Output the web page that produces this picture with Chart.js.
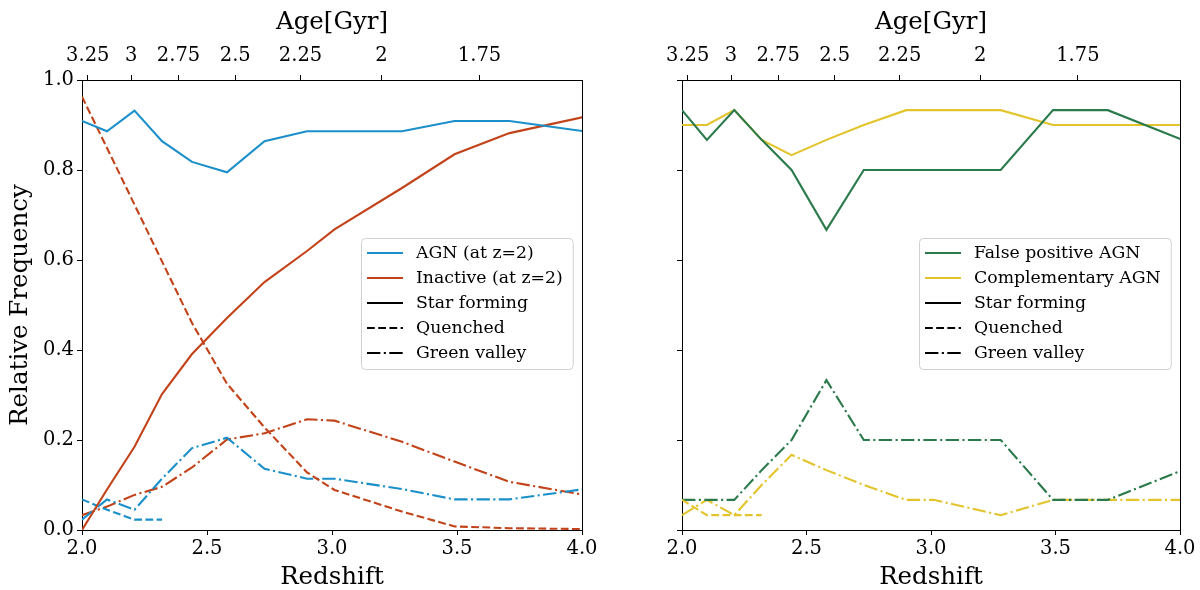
<!DOCTYPE html>
<html>
<head>
<meta charset="utf-8">
<script src="https://cdn.jsdelivr.net/npm/chart.js@4.4.1/dist/chart.umd.min.js"></script>
<style>
  html, body { margin: 0; padding: 0; background: #fff; }
  #wrap { display: flex; width: 1200px; height: 590px; }
  canvas { display: block; }
</style>
</head>
<body>
<div id="wrap">
  <canvas id="left" width="600" height="590"></canvas>
  <canvas id="right" width="600" height="590"></canvas>
</div>
<script>
// snapshot redshifts
const redshift = [2.00, 2.10, 2.21, 2.32, 2.44, 2.58, 2.73, 2.90, 3.01, 3.28, 3.49, 3.71, 4.01];

// left panel: galaxies that are AGN / inactive at z=2
const agnSF = [0.909, 0.886, 0.932, 0.864, 0.818, 0.795, 0.864, 0.886, 0.886, 0.886, 0.909, 0.909, 0.886];
const agnQ  = [0.068, 0.045, 0.023, 0.023, null, null, null, null, null, null, null, null, null];
const agnGV = [0.023, 0.068, 0.045, 0.114, 0.182, 0.205, 0.136, 0.114, 0.114, 0.091, 0.068, 0.068, 0.091];

const inactSF = [0.000, 0.090, 0.185, 0.302, 0.391, 0.471, 0.551, 0.620, 0.668, 0.760, 0.835, 0.882, 0.918];
const inactQ  = [0.963, 0.849, 0.723, 0.597, 0.460, 0.325, 0.228, 0.128, 0.089, 0.041, 0.008, 0.004, 0.002];
const inactGV = [0.033, 0.052, 0.078, 0.096, 0.139, 0.201, 0.215, 0.246, 0.243, 0.196, 0.152, 0.107, 0.078];

// right panel
const fpSF = [0.933, 0.867, 0.933, 0.867, 0.800, 0.667, 0.800, 0.800, 0.800, 0.800, 0.933, 0.933, 0.867];
const fpGV = [0.067, 0.067, 0.067, 0.133, 0.200, 0.333, 0.200, 0.200, 0.200, 0.200, 0.067, 0.067, 0.133];

const compSF = [0.900, 0.900, 0.933, 0.867, 0.833, 0.867, 0.900, 0.933, 0.933, 0.933, 0.900, 0.900, 0.900];
const compQ  = [0.067, 0.033, 0.033, 0.033, null, null, null, null, null, null, null, null, null];
const compGV = [0.033, 0.067, 0.033, 0.100, 0.167, 0.133, 0.100, 0.067, 0.067, 0.033, 0.067, 0.067, 0.067];

// top axis: cosmic age at the matching redshift
const ageTickZ = [2.023, 2.197, 2.386, 2.613, 2.874, 3.198, 3.590];
const ageTickLabels = ["3.25", "3", "2.75", "2.5", "2.25", "2", "1.75"];

const FONT = "'DejaVu Serif', 'Liberation Serif', serif";
const BLUE = "#1b8fc9", RED = "#c2431a", GREEN = "#2b7a4b", YELLOW = "#e3c42c";
const SOLID = [], DASHED = [7.8, 3.4], DASHDOT = [13.4, 3.4, 2.1, 3.4];

function series(label, ys, color, dash) {
  return {
    label,
    data: redshift.map((z, i) => ({ x: z, y: ys[i] })),
    borderColor: color,
    borderWidth: 2.1,
    borderDash: dash,
    pointRadius: 0,
    fill: false,
    tension: 0,
    spanGaps: false
  };
}

// legend box drawn inside the axes, like a "center right" legend
const boxLegend = {
  id: "boxLegend",
  afterDatasetsDraw(chart, args, opts) {
    const { ctx, chartArea: a } = chart;
    const items = opts.items || [];
    ctx.save();
    ctx.font = "17.3px " + FONT;
    const textW = Math.max(...items.map(it => ctx.measureText(it.text).width));
    const w = 56 + textW + 9, h = 131;
    const x = Math.round(a.right - 9 - w);
    const y = Math.round((a.top + a.bottom) / 2 - h / 2 - 2);
    ctx.beginPath();
    ctx.roundRect(x + 0.5, y + 0.5, w, h, 4);
    ctx.fillStyle = "rgba(255,255,255,0.8)";
    ctx.fill();
    ctx.strokeStyle = "#d0d0d0";
    ctx.lineWidth = 1;
    ctx.stroke();
    items.forEach((it, i) => {
      const cy = y + 15 + i * 25;
      ctx.beginPath();
      ctx.setLineDash(it.dash);
      ctx.strokeStyle = it.color;
      ctx.lineWidth = 2.1;
      ctx.moveTo(x + 6, cy);
      ctx.lineTo(x + 42, cy);
      ctx.stroke();
      ctx.setLineDash([]);
      ctx.fillStyle = "#000";
      ctx.textBaseline = "middle";
      ctx.fillText(it.text, x + 55, cy + 1);
    });
    ctx.restore();
  }
};

// right-hand spine
const rightSpine = {
  id: "rightSpine",
  afterDraw(chart) {
    const { ctx, chartArea: a } = chart;
    ctx.save();
    ctx.strokeStyle = "#000";
    ctx.lineWidth = 1;
    ctx.beginPath();
    ctx.moveTo(Math.round(a.right) + 0.5, a.top);
    ctx.lineTo(Math.round(a.right) + 0.5, a.bottom);
    ctx.stroke();
    ctx.restore();
  }
};

function makeOptions(showYLabels, padRight, legendItems) {
  const tickFont = { family: FONT, size: 19.5 };
  const titleFont = { family: FONT, size: 24.5 };
  const axisLine = { display: true, color: "#000", width: 1 };
  const tickGrid = { drawOnChartArea: false, drawTicks: true, tickLength: 5, tickColor: "#000", tickWidth: 1 };
  return {
    responsive: false,
    animation: false,
    events: [],
    layout: { padding: { left: 0, right: padRight, top: 0, bottom: 0 } },
    plugins: {
      legend: { display: false },
      tooltip: { enabled: false },
      boxLegend: { items: legendItems }
    },
    scales: {
      x: {
        type: "linear", position: "bottom", min: 2, max: 4, z: 1,
        grid: tickGrid, border: axisLine,
        ticks: { stepSize: 0.5, font: tickFont, color: "#000", padding: 2,
                 callback: v => v.toFixed(1), maxRotation: 0 },
        title: { display: true, text: "Redshift", font: titleFont, color: "#000",
                 padding: { top: 0, bottom: -2 } },
        afterFit: s => { s.height = 60; }
      },
      x2: {
        type: "linear", position: "top", min: 2, max: 4, z: 1,
        grid: tickGrid, border: axisLine,
        afterBuildTicks: s => { s.ticks = ageTickZ.map(v => ({ value: v })); },
        ticks: { font: tickFont, color: "#000", padding: 7.5, autoSkip: false, maxRotation: 0,
                 callback: (v, i) => ageTickLabels[i] },
        title: { display: true, text: "Age[Gyr]", font: titleFont, color: "#000",
                 padding: { top: 8, bottom: 0 } },
        afterFit: s => { s.height = 80; }
      },
      y: {
        type: "linear", position: "left", min: 0, max: 1, z: 1,
        grid: tickGrid, border: axisLine,
        ticks: { stepSize: 0.2, font: tickFont, color: "#000", padding: 3,
                 display: showYLabels, callback: v => v.toFixed(1) },
        title: { display: showYLabels, text: "Relative Frequency", font: titleFont, color: "#000",
                 padding: { top: 5.5, bottom: 0 } },
        afterFit: s => { s.width = 82; }
      }
    }
  };
}

new Chart(document.getElementById("left"), {
  type: "line",
  data: {
    datasets: [
      series("AGN (at z=2)", agnSF, BLUE, SOLID),
      series("Inactive (at z=2)", inactSF, RED, SOLID),
      series("AGN quenched", agnQ, BLUE, DASHED),
      series("Inactive quenched", inactQ, RED, DASHED),
      series("AGN green valley", agnGV, BLUE, DASHDOT),
      series("Inactive green valley", inactGV, RED, DASHDOT)
    ].map(d => Object.assign(d, { xAxisID: "x", yAxisID: "y" }))
  },
  options: makeOptions(true, 18, [
    { text: "AGN (at z=2)", color: BLUE, dash: SOLID },
    { text: "Inactive (at z=2)", color: RED, dash: SOLID },
    { text: "Star forming", color: "#000", dash: SOLID },
    { text: "Quenched", color: "#000", dash: DASHED },
    { text: "Green valley", color: "#000", dash: DASHDOT }
  ]),
  plugins: [boxLegend, rightSpine]
});

new Chart(document.getElementById("right"), {
  type: "line",
  data: {
    datasets: [
      series("False positive AGN", fpSF, GREEN, SOLID),
      series("Complementary AGN", compSF, YELLOW, SOLID),
      series("Complementary quenched", compQ, YELLOW, DASHED),
      series("False positive green valley", fpGV, GREEN, DASHDOT),
      series("Complementary green valley", compGV, YELLOW, DASHDOT)
    ].map(d => Object.assign(d, { xAxisID: "x", yAxisID: "y" }))
  },
  options: makeOptions(false, 20, [
    { text: "False positive AGN", color: GREEN, dash: SOLID },
    { text: "Complementary AGN", color: YELLOW, dash: SOLID },
    { text: "Star forming", color: "#000", dash: SOLID },
    { text: "Quenched", color: "#000", dash: DASHED },
    { text: "Green valley", color: "#000", dash: DASHDOT }
  ]),
  plugins: [boxLegend, rightSpine]
});
</script>
</body>
</html>
